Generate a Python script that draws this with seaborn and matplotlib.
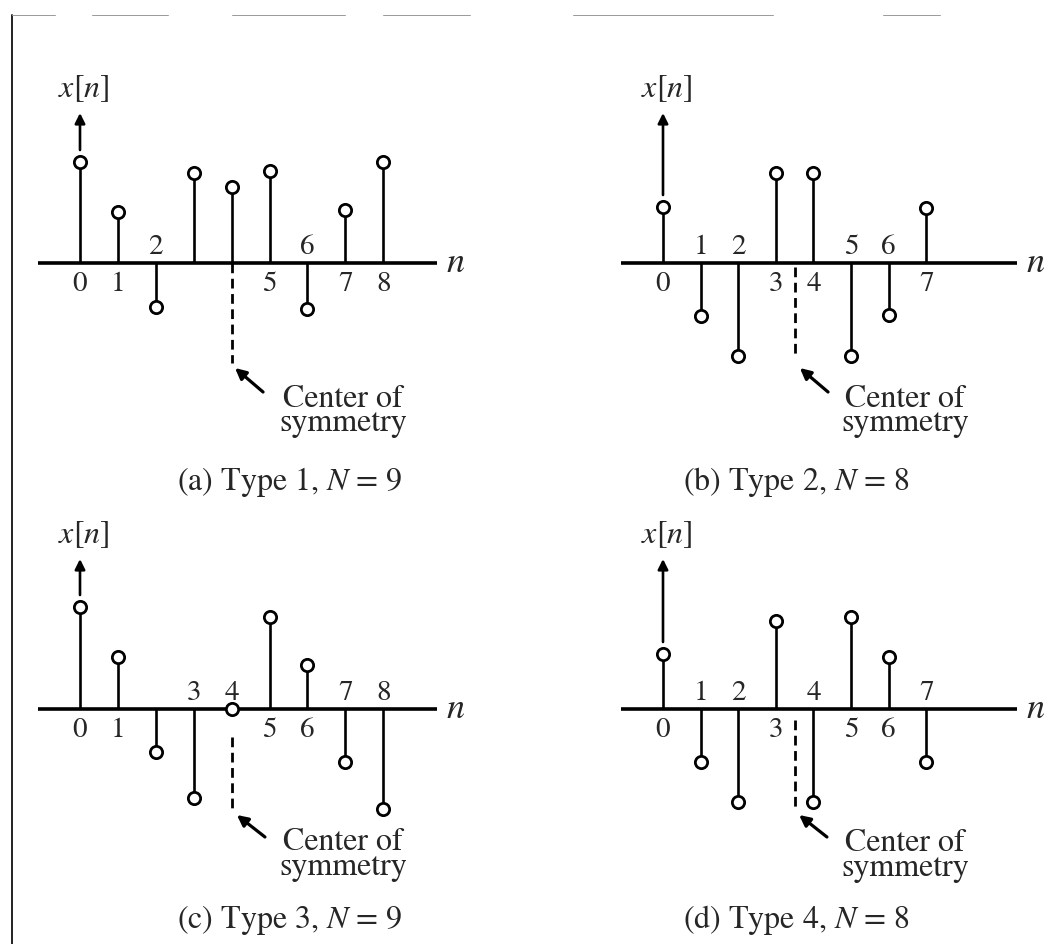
import numpy as np
import seaborn as sns
import matplotlib.pyplot as plt
from matplotlib.lines import Line2D

# sample values, in units where 1.0 is the height of the tallest stems
n_a = np.arange(9)
x_a = [1.01, 0.51, -0.44, 0.90, 0.76, 0.92, -0.46, 0.53, 1.01]
n_b = np.arange(8)
x_b = [0.56, -0.53, -0.93, 0.90, 0.90, -0.93, -0.52, 0.55]
n_c = np.arange(9)
x_c = [1.02, 0.52, -0.43, -0.89, 0.0, 0.92, 0.44, -0.53, -1.00]
n_d = np.arange(8)
x_d = [0.55, -0.53, -0.93, 0.88, -0.93, 0.92, 0.52, -0.53]

# which sample indices carry a number label (some are missing in the print)
labels_a = [0, 1, 2, 5, 6, 7, 8]
labels_b = [0, 1, 2, 3, 4, 5, 6, 7]
labels_c = [0, 1, 3, 4, 5, 6, 7, 8]
labels_d = [0, 1, 2, 3, 4, 5, 6, 7]

captions = ['(a) Type 1, $N$ = 9', '(b) Type 2, $N$ = 8',
            '(c) Type 3, $N$ = 9', '(d) Type 4, $N$ = 8']

sns.set_theme(style='white')
plt.rcParams['font.family'] = ['STIXGeneral', 'DejaVu Serif']
plt.rcParams['mathtext.fontset'] = 'stix'

W, H = 1050, 944
fig = plt.figure(figsize=(W / 100, H / 100), dpi=100)
fig.patch.set_facecolor('white')


def make_axes(ox, oy, sx, sy, box):
    # box = (left, top, right, bottom) in pixels, origin of data at (ox, oy)
    left, top, right, bottom = box
    ax = fig.add_axes([left / W, 1 - bottom / H, (right - left) / W, (bottom - top) / H])
    ax.set_xlim((left - ox) / sx, (right - ox) / sx)
    ax.set_ylim((oy - bottom) / sy, (oy - top) / sy)
    ax.axis('off')
    return ax


def panel(ax, n, x, labeled, caption, cap_x, cap_y, dash, txt_x, txt_y, arr):
    n = np.asarray(n)
    x = np.asarray(x)
    N = len(n)
    mid = (N - 1) / 2
    # horizontal axis
    ax.plot([-1.12, 9.42], [0, 0], color='black', lw=2.6, solid_capstyle='butt', zorder=1)
    ax.text(9.9, 0.0, '$n$', fontsize=26, ha='center', va='center')
    # vertical arrow at n=0
    ax.annotate('', xy=(0, 1.50), xytext=(0, x[0] + 0.12),
                arrowprops=dict(arrowstyle='-|>', color='black', lw=1.9,
                                mutation_scale=15, shrinkA=0, shrinkB=0))
    ax.text(0.1, 1.74, '$x[n]$', fontsize=23, ha='center', va='center')
    # stems and open circles
    ax.vlines(n, 0, x, color='black', lw=1.9, zorder=2)
    sns.scatterplot(x=n, y=x, ax=ax, marker='o', s=78, color='white',
                    edgecolor='black', linewidth=2.0, zorder=4, legend=False)
    # index numbers, opposite side of the stem
    for k in labeled:
        off = -0.21 if x[k] > 0 else 0.16
        ax.text(n[k], off, str(n[k]), fontsize=21, ha='center', va='center')
    # center of symmetry
    ax.plot([mid, mid], dash, color='black', lw=2.0, ls=(0, (3.5, 2.0)), zorder=1)
    ax.annotate('', xy=arr[0], xytext=arr[1],
                arrowprops=dict(arrowstyle='-|>', color='black', lw=2.3,
                                mutation_scale=16, shrinkA=0, shrinkB=0))
    ax.text(txt_x, txt_y, 'Center of\nsymmetry', fontsize=23, ha='center',
            va='center', linespacing=0.78)
    ax.text(cap_x, cap_y, caption, fontsize=23, ha='center', va='center')


sx1, sx2, sy = 37.9, 37.6, 100.0
ax_a = make_axes(80, 263, sx1, sy, (20, 60, 520, 500))
ax_b = make_axes(663, 263, sx2, sy, (530, 60, 1050, 500))
ax_c = make_axes(80, 709, sx1, sy, (20, 500, 520, 944))
ax_d = make_axes(663, 709, sx2, sy, (530, 500, 1050, 944))

panel(ax_a, n_a, x_a, labels_a, captions[0], 5.54, -2.19, (0, -1.0),
      6.94, -1.485, ((4.09, -1.05), (4.83, -1.29)))
panel(ax_b, n_b, x_b, labels_b, captions[1], 3.54, -2.19, (-0.04, -0.92),
      6.44, -1.485, ((3.64, -1.05), (4.39, -1.29)))
panel(ax_c, n_c, x_c, labels_c, captions[2], 5.54, -2.11, (-0.28, -0.99),
      6.94, -1.46, ((4.14, -1.06), (4.88, -1.28)))
panel(ax_d, n_d, x_d, labels_d, captions[3], 3.54, -2.11, (-0.11, -0.98),
      6.44, -1.47, ((3.62, -1.06), (4.36, -1.28)))

# scanned page edges
fig.add_artist(Line2D([12 / W, 12 / W], [1 - 15 / H, 0], color='#222222', lw=1.4))
for x0, x1 in [(12, 55), (92, 168), (232, 345), (383, 470), (573, 773), (883, 940)]:
    fig.add_artist(Line2D([x0 / W, x1 / W], [1 - 15 / H, 1 - 15 / H], color='#999999', lw=0.7))

fig.savefig('out.png', dpi=100, facecolor='white')
